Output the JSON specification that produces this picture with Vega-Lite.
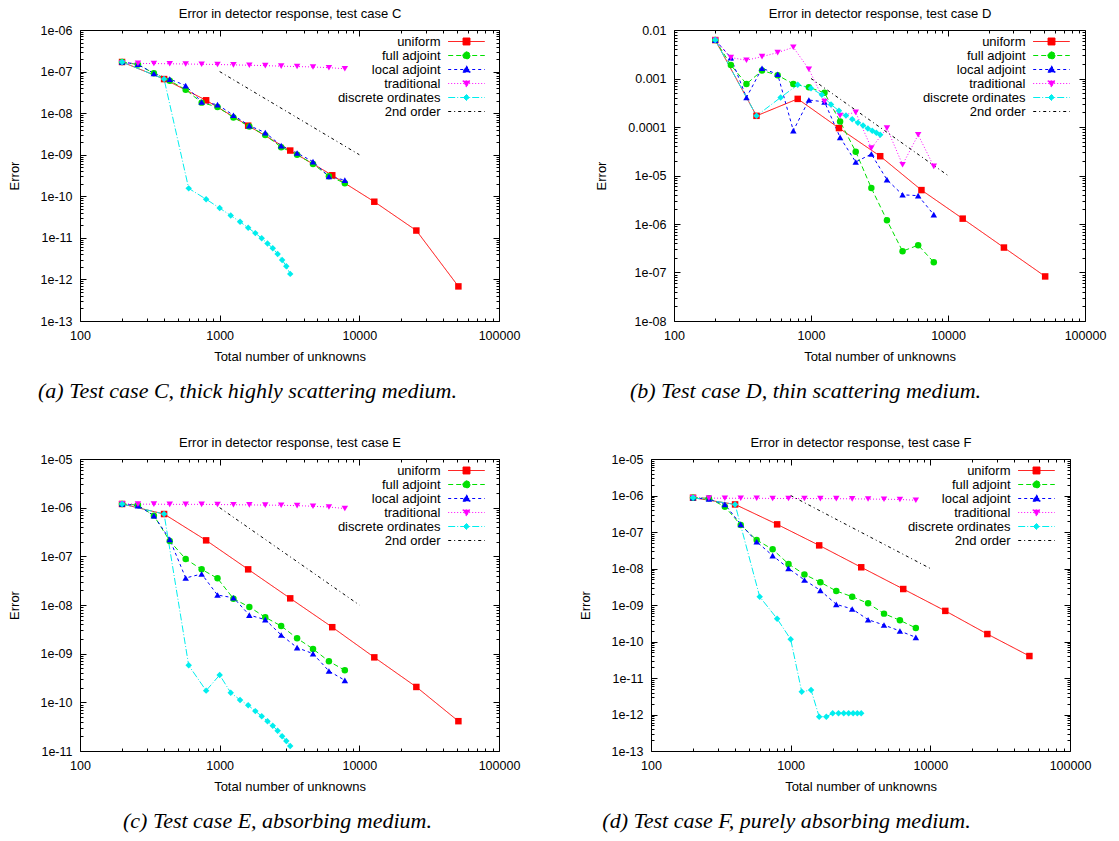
{
  "$schema": "https://vega.github.io/schema/vega-lite/v6.json",
  "padding": {"left": 7, "top": 7, "right": 5, "bottom": 5},
  "background": "white",
  "config": {
    "view": {"stroke": "#000000", "strokeWidth": 1},
    "axis": {"grid": false, "domain": false, "tickColor": "#000000", "tickWidth": 1, "labelFont": "Liberation Sans", "labelFontSize": 12.5, "labelColor": "#000000", "titleFont": "Liberation Sans", "titleFontSize": 13, "titleFontWeight": "normal", "titleColor": "#000000", "labelFlush": false, "labelOverlap": false, "labelPadding": 14},
    "legend": {"labelFont": "Liberation Sans", "labelFontSize": 13, "labelColor": "#000000", "labelAlign": "right", "labelOffset": -32.5, "rowPadding": -1, "padding": 0, "symbolSize": 144, "symbolStrokeWidth": 1, "labelLimit": 300},
    "title": {"font": "Liberation Serif", "fontSize": 22, "fontStyle": "italic", "fontWeight": "normal", "color": "#000000", "orient": "bottom", "anchor": "middle", "frame": "group", "offset": 17},
    "point": {"filled": true, "opacity": 1, "size": 42}
  },
  "datasets": {
    "C": [
      {"series": "uniform", "n": 200, "err": 1.7e-7}, {"series": "uniform", "n": 400, "err": 6.6e-8}, {"series": "uniform", "n": 800, "err": 2.04e-8}, {"series": "uniform", "n": 1600, "err": 5.0e-9}, {"series": "uniform", "n": 3200, "err": 1.26e-9}, {"series": "uniform", "n": 6400, "err": 3.2e-10}, {"series": "uniform", "n": 12800, "err": 7.4e-11}, {"series": "uniform", "n": 25600, "err": 1.5e-11}, {"series": "uniform", "n": 51200, "err": 6.8e-13},
      {"series": "full adjoint", "n": 200, "err": 1.7e-7}, {"series": "full adjoint", "n": 260, "err": 1.47e-7}, {"series": "full adjoint", "n": 338, "err": 9.1e-8}, {"series": "full adjoint", "n": 439, "err": 6.05e-8}, {"series": "full adjoint", "n": 571, "err": 3.67e-8}, {"series": "full adjoint", "n": 743, "err": 1.79e-8}, {"series": "full adjoint", "n": 965, "err": 1.41e-8}, {"series": "full adjoint", "n": 1255, "err": 7.9e-9}, {"series": "full adjoint", "n": 1631, "err": 4.75e-9}, {"series": "full adjoint", "n": 2121, "err": 2.96e-9}, {"series": "full adjoint", "n": 2757, "err": 1.52e-9}, {"series": "full adjoint", "n": 3584, "err": 1.0e-9}, {"series": "full adjoint", "n": 4659, "err": 6.0e-10}, {"series": "full adjoint", "n": 6057, "err": 3.03e-10}, {"series": "full adjoint", "n": 7874, "err": 2.07e-10},
      {"series": "local adjoint", "n": 200, "err": 1.7e-7}, {"series": "local adjoint", "n": 260, "err": 1.5e-7}, {"series": "local adjoint", "n": 338, "err": 9.0e-8}, {"series": "local adjoint", "n": 439, "err": 6.6e-8}, {"series": "local adjoint", "n": 571, "err": 4.6e-8}, {"series": "local adjoint", "n": 743, "err": 1.86e-8}, {"series": "local adjoint", "n": 965, "err": 1.6e-8}, {"series": "local adjoint", "n": 1255, "err": 8.9e-9}, {"series": "local adjoint", "n": 1631, "err": 5.0e-9}, {"series": "local adjoint", "n": 2121, "err": 3.4e-9}, {"series": "local adjoint", "n": 2757, "err": 1.65e-9}, {"series": "local adjoint", "n": 3584, "err": 1.1e-9}, {"series": "local adjoint", "n": 4659, "err": 6.8e-10}, {"series": "local adjoint", "n": 6057, "err": 3.0e-10}, {"series": "local adjoint", "n": 7874, "err": 2.45e-10},
      {"series": "traditional", "n": 200, "err": 1.62e-7}, {"series": "traditional", "n": 260, "err": 1.57e-7}, {"series": "traditional", "n": 338, "err": 1.56e-7}, {"series": "traditional", "n": 439, "err": 1.54e-7}, {"series": "traditional", "n": 571, "err": 1.52e-7}, {"series": "traditional", "n": 743, "err": 1.5e-7}, {"series": "traditional", "n": 965, "err": 1.48e-7}, {"series": "traditional", "n": 1255, "err": 1.45e-7}, {"series": "traditional", "n": 1631, "err": 1.42e-7}, {"series": "traditional", "n": 2121, "err": 1.39e-7}, {"series": "traditional", "n": 2757, "err": 1.35e-7}, {"series": "traditional", "n": 3584, "err": 1.32e-7}, {"series": "traditional", "n": 4659, "err": 1.29e-7}, {"series": "traditional", "n": 6057, "err": 1.24e-7}, {"series": "traditional", "n": 7874, "err": 1.17e-7},
      {"series": "discrete ordinates", "n": 200, "err": 1.7e-7}, {"series": "discrete ordinates", "n": 400, "err": 6.6e-8}, {"series": "discrete ordinates", "n": 600, "err": 1.55e-10}, {"series": "discrete ordinates", "n": 800, "err": 8.5e-11}, {"series": "discrete ordinates", "n": 1000, "err": 5.2e-11}, {"series": "discrete ordinates", "n": 1200, "err": 3.44e-11}, {"series": "discrete ordinates", "n": 1400, "err": 2.43e-11}, {"series": "discrete ordinates", "n": 1600, "err": 1.74e-11}, {"series": "discrete ordinates", "n": 1800, "err": 1.3e-11}, {"series": "discrete ordinates", "n": 2000, "err": 9.8e-12}, {"series": "discrete ordinates", "n": 2200, "err": 7.3e-12}, {"series": "discrete ordinates", "n": 2400, "err": 5.65e-12}, {"series": "discrete ordinates", "n": 2600, "err": 4.1e-12}, {"series": "discrete ordinates", "n": 2800, "err": 2.95e-12}, {"series": "discrete ordinates", "n": 3000, "err": 2.08e-12}, {"series": "discrete ordinates", "n": 3200, "err": 1.36e-12},
      {"series": "2nd order", "n": 1000, "err": 1e-7}, {"series": "2nd order", "n": 10000, "err": 1e-9}
    ],
    "D": [
      {"series": "uniform", "n": 200, "err": 6.2e-3}, {"series": "uniform", "n": 400, "err": 1.7e-4}, {"series": "uniform", "n": 800, "err": 3.8e-4}, {"series": "uniform", "n": 1600, "err": 9.5e-5}, {"series": "uniform", "n": 3200, "err": 2.5e-5}, {"series": "uniform", "n": 6400, "err": 5.0e-6}, {"series": "uniform", "n": 12800, "err": 1.29e-6}, {"series": "uniform", "n": 25600, "err": 3.27e-7}, {"series": "uniform", "n": 51200, "err": 8.3e-8},
      {"series": "full adjoint", "n": 200, "err": 6.2e-3}, {"series": "full adjoint", "n": 260, "err": 1.9e-3}, {"series": "full adjoint", "n": 338, "err": 7.7e-4}, {"series": "full adjoint", "n": 439, "err": 1.46e-3}, {"series": "full adjoint", "n": 571, "err": 1.17e-3}, {"series": "full adjoint", "n": 743, "err": 7.7e-4}, {"series": "full adjoint", "n": 965, "err": 6.6e-4}, {"series": "full adjoint", "n": 1255, "err": 5.06e-4}, {"series": "full adjoint", "n": 1631, "err": 1.3e-4}, {"series": "full adjoint", "n": 2121, "err": 3.1e-5}, {"series": "full adjoint", "n": 2757, "err": 5.5e-6}, {"series": "full adjoint", "n": 3584, "err": 1.19e-6}, {"series": "full adjoint", "n": 4659, "err": 2.75e-7}, {"series": "full adjoint", "n": 6057, "err": 3.66e-7}, {"series": "full adjoint", "n": 7874, "err": 1.63e-7},
      {"series": "local adjoint", "n": 200, "err": 6.2e-3}, {"series": "local adjoint", "n": 260, "err": 2.7e-3}, {"series": "local adjoint", "n": 338, "err": 4.06e-4}, {"series": "local adjoint", "n": 439, "err": 1.63e-3}, {"series": "local adjoint", "n": 571, "err": 1.22e-3}, {"series": "local adjoint", "n": 743, "err": 8.4e-5}, {"series": "local adjoint", "n": 965, "err": 3.6e-4}, {"series": "local adjoint", "n": 1255, "err": 3.3e-4}, {"series": "local adjoint", "n": 1631, "err": 6.1e-5}, {"series": "local adjoint", "n": 2121, "err": 1.9e-5}, {"series": "local adjoint", "n": 2757, "err": 2.77e-5}, {"series": "local adjoint", "n": 3584, "err": 8.2e-6}, {"series": "local adjoint", "n": 4659, "err": 4.0e-6}, {"series": "local adjoint", "n": 6057, "err": 3.84e-6}, {"series": "local adjoint", "n": 7874, "err": 1.56e-6},
      {"series": "traditional", "n": 200, "err": 6.2e-3}, {"series": "traditional", "n": 260, "err": 2.7e-3}, {"series": "traditional", "n": 338, "err": 2.38e-3}, {"series": "traditional", "n": 439, "err": 2.83e-3}, {"series": "traditional", "n": 571, "err": 3.42e-3}, {"series": "traditional", "n": 743, "err": 4.4e-3}, {"series": "traditional", "n": 965, "err": 1.55e-3}, {"series": "traditional", "n": 1255, "err": 3.35e-4}, {"series": "traditional", "n": 1631, "err": 1.72e-4}, {"series": "traditional", "n": 2121, "err": 2.0e-4}, {"series": "traditional", "n": 2757, "err": 3.67e-5}, {"series": "traditional", "n": 3584, "err": 9.5e-5}, {"series": "traditional", "n": 4659, "err": 1.67e-5}, {"series": "traditional", "n": 6057, "err": 6.9e-5}, {"series": "traditional", "n": 7874, "err": 1.54e-5},
      {"series": "discrete ordinates", "n": 200, "err": 6.2e-3}, {"series": "discrete ordinates", "n": 400, "err": 1.7e-4}, {"series": "discrete ordinates", "n": 600, "err": 4.06e-4}, {"series": "discrete ordinates", "n": 800, "err": 7.4e-4}, {"series": "discrete ordinates", "n": 1000, "err": 6.3e-4}, {"series": "discrete ordinates", "n": 1200, "err": 4.6e-4}, {"series": "discrete ordinates", "n": 1400, "err": 2.9e-4}, {"series": "discrete ordinates", "n": 1600, "err": 2.16e-4}, {"series": "discrete ordinates", "n": 1800, "err": 1.72e-4}, {"series": "discrete ordinates", "n": 2000, "err": 1.45e-4}, {"series": "discrete ordinates", "n": 2200, "err": 1.22e-4}, {"series": "discrete ordinates", "n": 2400, "err": 1.07e-4}, {"series": "discrete ordinates", "n": 2600, "err": 9.3e-5}, {"series": "discrete ordinates", "n": 2800, "err": 8.4e-5}, {"series": "discrete ordinates", "n": 3000, "err": 7.6e-5}, {"series": "discrete ordinates", "n": 3200, "err": 6.9e-5},
      {"series": "2nd order", "n": 1000, "err": 1e-3}, {"series": "2nd order", "n": 10000, "err": 1e-5}
    ],
    "E": [
      {"series": "uniform", "n": 200, "err": 1.19e-6}, {"series": "uniform", "n": 400, "err": 7.4e-7}, {"series": "uniform", "n": 800, "err": 2.13e-7}, {"series": "uniform", "n": 1600, "err": 5.4e-8}, {"series": "uniform", "n": 3200, "err": 1.37e-8}, {"series": "uniform", "n": 6400, "err": 3.5e-9}, {"series": "uniform", "n": 12800, "err": 8.4e-10}, {"series": "uniform", "n": 25600, "err": 2.07e-10}, {"series": "uniform", "n": 51200, "err": 4.1e-11},
      {"series": "full adjoint", "n": 200, "err": 1.19e-6}, {"series": "full adjoint", "n": 260, "err": 1.13e-6}, {"series": "full adjoint", "n": 338, "err": 6.86e-7}, {"series": "full adjoint", "n": 439, "err": 2.07e-7}, {"series": "full adjoint", "n": 571, "err": 8.8e-8}, {"series": "full adjoint", "n": 743, "err": 5.4e-8}, {"series": "full adjoint", "n": 965, "err": 3.53e-8}, {"series": "full adjoint", "n": 1255, "err": 1.35e-8}, {"series": "full adjoint", "n": 1631, "err": 9.1e-9}, {"series": "full adjoint", "n": 2121, "err": 5.6e-9}, {"series": "full adjoint", "n": 2757, "err": 3.7e-9}, {"series": "full adjoint", "n": 3584, "err": 2.07e-9}, {"series": "full adjoint", "n": 4659, "err": 1.25e-9}, {"series": "full adjoint", "n": 6057, "err": 6.96e-10}, {"series": "full adjoint", "n": 7874, "err": 4.55e-10},
      {"series": "local adjoint", "n": 200, "err": 1.19e-6}, {"series": "local adjoint", "n": 260, "err": 1.1e-6}, {"series": "local adjoint", "n": 338, "err": 6.86e-7}, {"series": "local adjoint", "n": 439, "err": 2.23e-7}, {"series": "local adjoint", "n": 571, "err": 3.59e-8}, {"series": "local adjoint", "n": 743, "err": 4.34e-8}, {"series": "local adjoint", "n": 965, "err": 1.6e-8}, {"series": "local adjoint", "n": 1255, "err": 1.41e-8}, {"series": "local adjoint", "n": 1631, "err": 6.2e-9}, {"series": "local adjoint", "n": 2121, "err": 5.0e-9}, {"series": "local adjoint", "n": 2757, "err": 2.42e-9}, {"series": "local adjoint", "n": 3584, "err": 1.33e-9}, {"series": "local adjoint", "n": 4659, "err": 1.0e-9}, {"series": "local adjoint", "n": 6057, "err": 4.4e-10}, {"series": "local adjoint", "n": 7874, "err": 2.83e-10},
      {"series": "traditional", "n": 200, "err": 1.2e-6}, {"series": "traditional", "n": 260, "err": 1.18e-6}, {"series": "traditional", "n": 338, "err": 1.18e-6}, {"series": "traditional", "n": 439, "err": 1.17e-6}, {"series": "traditional", "n": 571, "err": 1.17e-6}, {"series": "traditional", "n": 743, "err": 1.17e-6}, {"series": "traditional", "n": 965, "err": 1.16e-6}, {"series": "traditional", "n": 1255, "err": 1.15e-6}, {"series": "traditional", "n": 1631, "err": 1.14e-6}, {"series": "traditional", "n": 2121, "err": 1.13e-6}, {"series": "traditional", "n": 2757, "err": 1.12e-6}, {"series": "traditional", "n": 3584, "err": 1.1e-6}, {"series": "traditional", "n": 4659, "err": 1.07e-6}, {"series": "traditional", "n": 6057, "err": 1.03e-6}, {"series": "traditional", "n": 7874, "err": 9.6e-7},
      {"series": "discrete ordinates", "n": 200, "err": 1.19e-6}, {"series": "discrete ordinates", "n": 400, "err": 7.4e-7}, {"series": "discrete ordinates", "n": 600, "err": 5.75e-10}, {"series": "discrete ordinates", "n": 800, "err": 1.74e-10}, {"series": "discrete ordinates", "n": 1000, "err": 3.65e-10}, {"series": "discrete ordinates", "n": 1200, "err": 1.58e-10}, {"series": "discrete ordinates", "n": 1400, "err": 1.12e-10}, {"series": "discrete ordinates", "n": 1600, "err": 8.7e-11}, {"series": "discrete ordinates", "n": 1800, "err": 6.6e-11}, {"series": "discrete ordinates", "n": 2000, "err": 5.2e-11}, {"series": "discrete ordinates", "n": 2200, "err": 4.1e-11}, {"series": "discrete ordinates", "n": 2400, "err": 3.3e-11}, {"series": "discrete ordinates", "n": 2600, "err": 2.6e-11}, {"series": "discrete ordinates", "n": 2800, "err": 2.0e-11}, {"series": "discrete ordinates", "n": 3000, "err": 1.6e-11}, {"series": "discrete ordinates", "n": 3200, "err": 1.27e-11},
      {"series": "2nd order", "n": 1000, "err": 1e-6}, {"series": "2nd order", "n": 10000, "err": 1e-8}
    ],
    "F": [
      {"series": "uniform", "n": 200, "err": 8.7e-7}, {"series": "uniform", "n": 400, "err": 5.7e-7}, {"series": "uniform", "n": 800, "err": 1.62e-7}, {"series": "uniform", "n": 1600, "err": 4.3e-8}, {"series": "uniform", "n": 3200, "err": 1.08e-8}, {"series": "uniform", "n": 6400, "err": 2.74e-9}, {"series": "uniform", "n": 12800, "err": 6.9e-10}, {"series": "uniform", "n": 25600, "err": 1.6e-10}, {"series": "uniform", "n": 51200, "err": 4.0e-11},
      {"series": "full adjoint", "n": 200, "err": 8.7e-7}, {"series": "full adjoint", "n": 260, "err": 8.4e-7}, {"series": "full adjoint", "n": 338, "err": 4.94e-7}, {"series": "full adjoint", "n": 439, "err": 1.56e-7}, {"series": "full adjoint", "n": 571, "err": 6.0e-8}, {"series": "full adjoint", "n": 743, "err": 3.35e-8}, {"series": "full adjoint", "n": 965, "err": 1.33e-8}, {"series": "full adjoint", "n": 1255, "err": 6.9e-9}, {"series": "full adjoint", "n": 1631, "err": 4.2e-9}, {"series": "full adjoint", "n": 2121, "err": 2.42e-9}, {"series": "full adjoint", "n": 2757, "err": 1.69e-9}, {"series": "full adjoint", "n": 3584, "err": 1.11e-9}, {"series": "full adjoint", "n": 4659, "err": 5.8e-10}, {"series": "full adjoint", "n": 6057, "err": 3.8e-10}, {"series": "full adjoint", "n": 7874, "err": 2.35e-10},
      {"series": "local adjoint", "n": 200, "err": 8.7e-7}, {"series": "local adjoint", "n": 260, "err": 8.0e-7}, {"series": "local adjoint", "n": 338, "err": 5.7e-7}, {"series": "local adjoint", "n": 439, "err": 1.62e-7}, {"series": "local adjoint", "n": 571, "err": 5.4e-8}, {"series": "local adjoint", "n": 743, "err": 2.25e-8}, {"series": "local adjoint", "n": 965, "err": 1.01e-8}, {"series": "local adjoint", "n": 1255, "err": 4.84e-9}, {"series": "local adjoint", "n": 1631, "err": 2.52e-9}, {"series": "local adjoint", "n": 2121, "err": 1.04e-9}, {"series": "local adjoint", "n": 2757, "err": 7.8e-10}, {"series": "local adjoint", "n": 3584, "err": 3.96e-10}, {"series": "local adjoint", "n": 4659, "err": 2.83e-10}, {"series": "local adjoint", "n": 6057, "err": 1.94e-10}, {"series": "local adjoint", "n": 7874, "err": 1.3e-10},
      {"series": "traditional", "n": 200, "err": 8.7e-7}, {"series": "traditional", "n": 260, "err": 8.5e-7}, {"series": "traditional", "n": 338, "err": 8.4e-7}, {"series": "traditional", "n": 439, "err": 8.4e-7}, {"series": "traditional", "n": 571, "err": 8.4e-7}, {"series": "traditional", "n": 743, "err": 8.3e-7}, {"series": "traditional", "n": 965, "err": 8.3e-7}, {"series": "traditional", "n": 1255, "err": 8.3e-7}, {"series": "traditional", "n": 1631, "err": 8.2e-7}, {"series": "traditional", "n": 2121, "err": 8.2e-7}, {"series": "traditional", "n": 2757, "err": 8.1e-7}, {"series": "traditional", "n": 3584, "err": 8.0e-7}, {"series": "traditional", "n": 4659, "err": 7.9e-7}, {"series": "traditional", "n": 6057, "err": 7.8e-7}, {"series": "traditional", "n": 7874, "err": 7.4e-7},
      {"series": "discrete ordinates", "n": 200, "err": 8.7e-7}, {"series": "discrete ordinates", "n": 400, "err": 5.7e-7}, {"series": "discrete ordinates", "n": 600, "err": 1.69e-9}, {"series": "discrete ordinates", "n": 800, "err": 4.2e-10}, {"series": "discrete ordinates", "n": 1000, "err": 1.15e-10}, {"series": "discrete ordinates", "n": 1200, "err": 4.2e-12}, {"series": "discrete ordinates", "n": 1400, "err": 4.7e-12}, {"series": "discrete ordinates", "n": 1600, "err": 8.7e-13}, {"series": "discrete ordinates", "n": 1800, "err": 8.7e-13}, {"series": "discrete ordinates", "n": 2000, "err": 1.08e-12}, {"series": "discrete ordinates", "n": 2200, "err": 1.08e-12}, {"series": "discrete ordinates", "n": 2400, "err": 1.08e-12}, {"series": "discrete ordinates", "n": 2600, "err": 1.08e-12}, {"series": "discrete ordinates", "n": 2800, "err": 1.08e-12}, {"series": "discrete ordinates", "n": 3000, "err": 1.08e-12}, {"series": "discrete ordinates", "n": 3200, "err": 1.08e-12},
      {"series": "2nd order", "n": 1000, "err": 1e-6}, {"series": "2nd order", "n": 10000, "err": 1e-8}
    ]
  },
  "spacing": 34,
  "resolve": {"scale": {"color": "independent", "strokeDash": "independent", "shape": "independent"}, "legend": {"color": "independent"}},
  "vconcat": [
    {
      "spacing": 74,
      "resolve": {"scale": {"color": "independent", "strokeDash": "independent", "shape": "independent"}, "legend": {"color": "independent"}},
      "hconcat": [
        {
          "width": 419, "height": 291,
          "title": {"text": "(a) Test case C, thick highly scattering medium.", "dx": -42},
          "data": {"name": "C"},
          "resolve": {"axis": {"x": "independent", "y": "independent"}},
          "layer": [
            {
              "mark": {"type": "line", "strokeWidth": 1},
              "encoding": {
                "x": {"field": "n", "type": "quantitative", "scale": {"type": "log", "domain": [100, 100000], "nice": false},
                  "axis": {"values": [100,200,300,400,500,600,700,800,900,1000,2000,3000,4000,5000,6000,7000,8000,9000,10000,20000,30000,40000,50000,60000,70000,80000,90000,100000], "labelExpr": "abs(log(datum.value)/LN10 - round(log(datum.value)/LN10)) < 0.001 ? toString(round(datum.value)) : ''", "tickSize": {"condition": {"test": "abs(log(datum.value)/LN10 - round(log(datum.value)/LN10)) < 0.001", "value": -6}, "value": -3}, "title": "Total number of unknowns", "titlePadding": 6}},
                "y": {"field": "err", "type": "quantitative", "scale": {"type": "log", "domain": [1e-13, 1e-6], "nice": false},
                  "axis": {"values": [1e-13,2e-13,3e-13,4e-13,5e-13,6e-13,7e-13,8e-13,9e-13,1e-12,2e-12,3e-12,4e-12,5e-12,6e-12,7e-12,8e-12,9e-12,1e-11,2e-11,3e-11,4e-11,5e-11,6e-11,7e-11,8e-11,9e-11,1e-10,2e-10,3e-10,4e-10,5e-10,6e-10,7e-10,8e-10,9e-10,1e-9,2e-9,3e-9,4e-9,5e-9,6e-9,7e-9,8e-9,9e-9,1e-8,2e-8,3e-8,4e-8,5e-8,6e-8,7e-8,8e-8,9e-8,1e-7,2e-7,3e-7,4e-7,5e-7,6e-7,7e-7,8e-7,9e-7,1e-6], "labelExpr": "abs(log(datum.value)/LN10 - round(log(datum.value)/LN10)) < 0.001 ? ('1e-' + ((-round(log(datum.value)/LN10)) < 10 ? '0' : '') + (-round(log(datum.value)/LN10))) : ''", "tickSize": {"condition": {"test": "abs(log(datum.value)/LN10 - round(log(datum.value)/LN10)) < 0.001", "value": -6}, "value": -3}, "title": "Error", "titlePadding": 19}},
                "color": {"field": "series", "type": "nominal", "scale": {"domain": ["uniform","full adjoint","local adjoint","traditional","discrete ordinates","2nd order"], "range": ["#ff0000","#00e000","#0000ff","#ff00ff","#00eeee","#000000"]},
                  "legend": {"title": null, "orient": "none", "legendX": 380, "legendY": 5,
                    "symbolType": {"expr": "datum.value === 'uniform' ? 'M-3.05,0H3.05M-0.58,-0.58H0.58V0.58H-0.58Z' : datum.value === 'full adjoint' ? 'M-3.05,0H3.05M0.62,0L0.44,0.44L0,0.62L-0.44,0.44L-0.62,0L-0.44,-0.44L0,-0.62L0.44,-0.44Z' : datum.value === 'local adjoint' ? 'M-3.05,0H3.05M-0.62,0.45L0.62,0.45L0,-0.62Z' : datum.value === 'traditional' ? 'M-3.05,0H3.05M-0.62,-0.45L0.62,-0.45L0,0.62Z' : datum.value === 'discrete ordinates' ? 'M-3.05,0H3.05M-0.5,0L0,-0.5L0.5,0L0,0.5Z' : 'M-3.05,0H3.05'"},
                    "symbolFillColor": {"expr": "datum.value === 'uniform' ? '#ff0000' : datum.value === 'full adjoint' ? '#00e000' : datum.value === 'local adjoint' ? '#0000ff' : datum.value === 'traditional' ? '#ff00ff' : datum.value === 'discrete ordinates' ? '#00eeee' : 'transparent'"},
                    "symbolDash": {"expr": "datum.value === 'uniform' ? [1,0] : datum.value === 'full adjoint' ? [5,3] : datum.value === 'local adjoint' ? [3,3] : datum.value === 'traditional' ? [1,2] : datum.value === 'discrete ordinates' ? [7,2,1,2] : [3,3,1,3]"}}},
                "strokeDash": {"field": "series", "type": "nominal", "scale": {"domain": ["uniform","full adjoint","local adjoint","traditional","discrete ordinates","2nd order"], "range": [[1,0],[5,3],[3,3],[1,2],[7,2,1,2],[3,3,1,3]]}, "legend": null}
              }
            },
            {
              "transform": [{"filter": "datum.series !== '2nd order'"}],
              "mark": {"type": "point", "filled": true, "opacity": 1, "size": 42},
              "encoding": {
                "x": {"field": "n", "type": "quantitative", "scale": {"type": "log", "domain": [100, 100000], "nice": false},
                  "axis": {"orient": "top", "values": [100,200,300,400,500,600,700,800,900,1000,2000,3000,4000,5000,6000,7000,8000,9000,10000,20000,30000,40000,50000,60000,70000,80000,90000,100000], "labels": false, "tickSize": {"condition": {"test": "abs(log(datum.value)/LN10 - round(log(datum.value)/LN10)) < 0.001", "value": -6}, "value": -3}, "title": "Error in detector response, test case C", "titlePadding": 9}},
                "y": {"field": "err", "type": "quantitative", "scale": {"type": "log", "domain": [1e-13, 1e-6], "nice": false},
                  "axis": {"orient": "right", "values": [1e-13,2e-13,3e-13,4e-13,5e-13,6e-13,7e-13,8e-13,9e-13,1e-12,2e-12,3e-12,4e-12,5e-12,6e-12,7e-12,8e-12,9e-12,1e-11,2e-11,3e-11,4e-11,5e-11,6e-11,7e-11,8e-11,9e-11,1e-10,2e-10,3e-10,4e-10,5e-10,6e-10,7e-10,8e-10,9e-10,1e-9,2e-9,3e-9,4e-9,5e-9,6e-9,7e-9,8e-9,9e-9,1e-8,2e-8,3e-8,4e-8,5e-8,6e-8,7e-8,8e-8,9e-8,1e-7,2e-7,3e-7,4e-7,5e-7,6e-7,7e-7,8e-7,9e-7,1e-6], "labels": false, "tickSize": {"condition": {"test": "abs(log(datum.value)/LN10 - round(log(datum.value)/LN10)) < 0.001", "value": -6}, "value": -3}, "title": null}},
                "color": {"field": "series", "type": "nominal", "scale": {"domain": ["uniform","full adjoint","local adjoint","traditional","discrete ordinates","2nd order"], "range": ["#ff0000","#00e000","#0000ff","#ff00ff","#00eeee","#000000"]}, "legend": null},
                "shape": {"field": "series", "type": "nominal", "scale": {"domain": ["uniform","full adjoint","local adjoint","traditional","discrete ordinates"], "range": ["square","circle","triangle-up","triangle-down","diamond"]}, "legend": null}
              }
            }
          ]
        },
        {
          "width": 411, "height": 291,
          "title": {"text": "(b) Test case D, thin scattering medium.", "dx": -74},
          "data": {"name": "D"},
          "resolve": {"axis": {"x": "independent", "y": "independent"}},
          "layer": [
            {
              "mark": {"type": "line", "strokeWidth": 1},
              "encoding": {
                "x": {"field": "n", "type": "quantitative", "scale": {"type": "log", "domain": [100, 100000], "nice": false},
                  "axis": {"values": [100,200,300,400,500,600,700,800,900,1000,2000,3000,4000,5000,6000,7000,8000,9000,10000,20000,30000,40000,50000,60000,70000,80000,90000,100000], "labelExpr": "abs(log(datum.value)/LN10 - round(log(datum.value)/LN10)) < 0.001 ? toString(round(datum.value)) : ''", "tickSize": {"condition": {"test": "abs(log(datum.value)/LN10 - round(log(datum.value)/LN10)) < 0.001", "value": -6}, "value": -3}, "title": "Total number of unknowns", "titlePadding": 6}},
                "y": {"field": "err", "type": "quantitative", "scale": {"type": "log", "domain": [1e-8, 1e-2], "nice": false},
                  "axis": {"values": [1e-8,2e-8,3e-8,4e-8,5e-8,6e-8,7e-8,8e-8,9e-8,1e-7,2e-7,3e-7,4e-7,5e-7,6e-7,7e-7,8e-7,9e-7,1e-6,2e-6,3e-6,4e-6,5e-6,6e-6,7e-6,8e-6,9e-6,1e-5,2e-5,3e-5,4e-5,5e-5,6e-5,7e-5,8e-5,9e-5,0.0001,0.0002,0.0003,0.0004,0.0005,0.0006,0.0007,0.0008,0.0009,0.001,0.002,0.003,0.004,0.005,0.006,0.007,0.008,0.009,0.01], "labelExpr": "abs(log(datum.value)/LN10 - round(log(datum.value)/LN10)) < 0.001 ? (datum.value >= 0.0001 ? toString(datum.value) : ('1e-' + ((-round(log(datum.value)/LN10)) < 10 ? '0' : '') + (-round(log(datum.value)/LN10)))) : ''", "tickSize": {"condition": {"test": "abs(log(datum.value)/LN10 - round(log(datum.value)/LN10)) < 0.001", "value": -6}, "value": -3}, "title": "Error", "titlePadding": 19}},
                "color": {"field": "series", "type": "nominal", "scale": {"domain": ["uniform","full adjoint","local adjoint","traditional","discrete ordinates","2nd order"], "range": ["#ff0000","#00e000","#0000ff","#ff00ff","#00eeee","#000000"]},
                  "legend": {"title": null, "orient": "none", "legendX": 371, "legendY": 5,
                    "symbolType": {"expr": "datum.value === 'uniform' ? 'M-3.05,0H3.05M-0.58,-0.58H0.58V0.58H-0.58Z' : datum.value === 'full adjoint' ? 'M-3.05,0H3.05M0.62,0L0.44,0.44L0,0.62L-0.44,0.44L-0.62,0L-0.44,-0.44L0,-0.62L0.44,-0.44Z' : datum.value === 'local adjoint' ? 'M-3.05,0H3.05M-0.62,0.45L0.62,0.45L0,-0.62Z' : datum.value === 'traditional' ? 'M-3.05,0H3.05M-0.62,-0.45L0.62,-0.45L0,0.62Z' : datum.value === 'discrete ordinates' ? 'M-3.05,0H3.05M-0.5,0L0,-0.5L0.5,0L0,0.5Z' : 'M-3.05,0H3.05'"},
                    "symbolFillColor": {"expr": "datum.value === 'uniform' ? '#ff0000' : datum.value === 'full adjoint' ? '#00e000' : datum.value === 'local adjoint' ? '#0000ff' : datum.value === 'traditional' ? '#ff00ff' : datum.value === 'discrete ordinates' ? '#00eeee' : 'transparent'"},
                    "symbolDash": {"expr": "datum.value === 'uniform' ? [1,0] : datum.value === 'full adjoint' ? [5,3] : datum.value === 'local adjoint' ? [3,3] : datum.value === 'traditional' ? [1,2] : datum.value === 'discrete ordinates' ? [7,2,1,2] : [3,3,1,3]"}}},
                "strokeDash": {"field": "series", "type": "nominal", "scale": {"domain": ["uniform","full adjoint","local adjoint","traditional","discrete ordinates","2nd order"], "range": [[1,0],[5,3],[3,3],[1,2],[7,2,1,2],[3,3,1,3]]}, "legend": null}
              }
            },
            {
              "transform": [{"filter": "datum.series !== '2nd order'"}],
              "mark": {"type": "point", "filled": true, "opacity": 1, "size": 42},
              "encoding": {
                "x": {"field": "n", "type": "quantitative", "scale": {"type": "log", "domain": [100, 100000], "nice": false},
                  "axis": {"orient": "top", "values": [100,200,300,400,500,600,700,800,900,1000,2000,3000,4000,5000,6000,7000,8000,9000,10000,20000,30000,40000,50000,60000,70000,80000,90000,100000], "labels": false, "tickSize": {"condition": {"test": "abs(log(datum.value)/LN10 - round(log(datum.value)/LN10)) < 0.001", "value": -6}, "value": -3}, "title": "Error in detector response, test case D", "titlePadding": 9}},
                "y": {"field": "err", "type": "quantitative", "scale": {"type": "log", "domain": [1e-8, 1e-2], "nice": false},
                  "axis": {"orient": "right", "values": [1e-8,2e-8,3e-8,4e-8,5e-8,6e-8,7e-8,8e-8,9e-8,1e-7,2e-7,3e-7,4e-7,5e-7,6e-7,7e-7,8e-7,9e-7,1e-6,2e-6,3e-6,4e-6,5e-6,6e-6,7e-6,8e-6,9e-6,1e-5,2e-5,3e-5,4e-5,5e-5,6e-5,7e-5,8e-5,9e-5,0.0001,0.0002,0.0003,0.0004,0.0005,0.0006,0.0007,0.0008,0.0009,0.001,0.002,0.003,0.004,0.005,0.006,0.007,0.008,0.009,0.01], "labels": false, "tickSize": {"condition": {"test": "abs(log(datum.value)/LN10 - round(log(datum.value)/LN10)) < 0.001", "value": -6}, "value": -3}, "title": null}},
                "color": {"field": "series", "type": "nominal", "scale": {"domain": ["uniform","full adjoint","local adjoint","traditional","discrete ordinates","2nd order"], "range": ["#ff0000","#00e000","#0000ff","#ff00ff","#00eeee","#000000"]}, "legend": null},
                "shape": {"field": "series", "type": "nominal", "scale": {"domain": ["uniform","full adjoint","local adjoint","traditional","discrete ordinates"], "range": ["square","circle","triangle-up","triangle-down","diamond"]}, "legend": null}
              }
            }
          ]
        }
      ]
    },
    {
      "spacing": 57,
      "resolve": {"scale": {"color": "independent", "strokeDash": "independent", "shape": "independent"}, "legend": {"color": "independent"}},
      "hconcat": [
        {
          "width": 419, "height": 292,
          "title": {"text": "(c) Test case E, absorbing medium.", "dx": -12},
          "data": {"name": "E"},
          "resolve": {"axis": {"x": "independent", "y": "independent"}},
          "layer": [
            {
              "mark": {"type": "line", "strokeWidth": 1},
              "encoding": {
                "x": {"field": "n", "type": "quantitative", "scale": {"type": "log", "domain": [100, 100000], "nice": false},
                  "axis": {"values": [100,200,300,400,500,600,700,800,900,1000,2000,3000,4000,5000,6000,7000,8000,9000,10000,20000,30000,40000,50000,60000,70000,80000,90000,100000], "labelExpr": "abs(log(datum.value)/LN10 - round(log(datum.value)/LN10)) < 0.001 ? toString(round(datum.value)) : ''", "tickSize": {"condition": {"test": "abs(log(datum.value)/LN10 - round(log(datum.value)/LN10)) < 0.001", "value": -6}, "value": -3}, "title": "Total number of unknowns", "titlePadding": 6}},
                "y": {"field": "err", "type": "quantitative", "scale": {"type": "log", "domain": [1e-11, 1e-5], "nice": false},
                  "axis": {"values": [1e-11,2e-11,3e-11,4e-11,5e-11,6e-11,7e-11,8e-11,9e-11,1e-10,2e-10,3e-10,4e-10,5e-10,6e-10,7e-10,8e-10,9e-10,1e-9,2e-9,3e-9,4e-9,5e-9,6e-9,7e-9,8e-9,9e-9,1e-8,2e-8,3e-8,4e-8,5e-8,6e-8,7e-8,8e-8,9e-8,1e-7,2e-7,3e-7,4e-7,5e-7,6e-7,7e-7,8e-7,9e-7,1e-6,2e-6,3e-6,4e-6,5e-6,6e-6,7e-6,8e-6,9e-6,1e-5], "labelExpr": "abs(log(datum.value)/LN10 - round(log(datum.value)/LN10)) < 0.001 ? ('1e-' + ((-round(log(datum.value)/LN10)) < 10 ? '0' : '') + (-round(log(datum.value)/LN10))) : ''", "tickSize": {"condition": {"test": "abs(log(datum.value)/LN10 - round(log(datum.value)/LN10)) < 0.001", "value": -6}, "value": -3}, "title": "Error", "titlePadding": 19}},
                "color": {"field": "series", "type": "nominal", "scale": {"domain": ["uniform","full adjoint","local adjoint","traditional","discrete ordinates","2nd order"], "range": ["#ff0000","#00e000","#0000ff","#ff00ff","#00eeee","#000000"]},
                  "legend": {"title": null, "orient": "none", "legendX": 380, "legendY": 5,
                    "symbolType": {"expr": "datum.value === 'uniform' ? 'M-3.05,0H3.05M-0.58,-0.58H0.58V0.58H-0.58Z' : datum.value === 'full adjoint' ? 'M-3.05,0H3.05M0.62,0L0.44,0.44L0,0.62L-0.44,0.44L-0.62,0L-0.44,-0.44L0,-0.62L0.44,-0.44Z' : datum.value === 'local adjoint' ? 'M-3.05,0H3.05M-0.62,0.45L0.62,0.45L0,-0.62Z' : datum.value === 'traditional' ? 'M-3.05,0H3.05M-0.62,-0.45L0.62,-0.45L0,0.62Z' : datum.value === 'discrete ordinates' ? 'M-3.05,0H3.05M-0.5,0L0,-0.5L0.5,0L0,0.5Z' : 'M-3.05,0H3.05'"},
                    "symbolFillColor": {"expr": "datum.value === 'uniform' ? '#ff0000' : datum.value === 'full adjoint' ? '#00e000' : datum.value === 'local adjoint' ? '#0000ff' : datum.value === 'traditional' ? '#ff00ff' : datum.value === 'discrete ordinates' ? '#00eeee' : 'transparent'"},
                    "symbolDash": {"expr": "datum.value === 'uniform' ? [1,0] : datum.value === 'full adjoint' ? [5,3] : datum.value === 'local adjoint' ? [3,3] : datum.value === 'traditional' ? [1,2] : datum.value === 'discrete ordinates' ? [7,2,1,2] : [3,3,1,3]"}}},
                "strokeDash": {"field": "series", "type": "nominal", "scale": {"domain": ["uniform","full adjoint","local adjoint","traditional","discrete ordinates","2nd order"], "range": [[1,0],[5,3],[3,3],[1,2],[7,2,1,2],[3,3,1,3]]}, "legend": null}
              }
            },
            {
              "transform": [{"filter": "datum.series !== '2nd order'"}],
              "mark": {"type": "point", "filled": true, "opacity": 1, "size": 42},
              "encoding": {
                "x": {"field": "n", "type": "quantitative", "scale": {"type": "log", "domain": [100, 100000], "nice": false},
                  "axis": {"orient": "top", "values": [100,200,300,400,500,600,700,800,900,1000,2000,3000,4000,5000,6000,7000,8000,9000,10000,20000,30000,40000,50000,60000,70000,80000,90000,100000], "labels": false, "tickSize": {"condition": {"test": "abs(log(datum.value)/LN10 - round(log(datum.value)/LN10)) < 0.001", "value": -6}, "value": -3}, "title": "Error in detector response, test case E", "titlePadding": 9}},
                "y": {"field": "err", "type": "quantitative", "scale": {"type": "log", "domain": [1e-11, 1e-5], "nice": false},
                  "axis": {"orient": "right", "values": [1e-11,2e-11,3e-11,4e-11,5e-11,6e-11,7e-11,8e-11,9e-11,1e-10,2e-10,3e-10,4e-10,5e-10,6e-10,7e-10,8e-10,9e-10,1e-9,2e-9,3e-9,4e-9,5e-9,6e-9,7e-9,8e-9,9e-9,1e-8,2e-8,3e-8,4e-8,5e-8,6e-8,7e-8,8e-8,9e-8,1e-7,2e-7,3e-7,4e-7,5e-7,6e-7,7e-7,8e-7,9e-7,1e-6,2e-6,3e-6,4e-6,5e-6,6e-6,7e-6,8e-6,9e-6,1e-5], "labels": false, "tickSize": {"condition": {"test": "abs(log(datum.value)/LN10 - round(log(datum.value)/LN10)) < 0.001", "value": -6}, "value": -3}, "title": null}},
                "color": {"field": "series", "type": "nominal", "scale": {"domain": ["uniform","full adjoint","local adjoint","traditional","discrete ordinates","2nd order"], "range": ["#ff0000","#00e000","#0000ff","#ff00ff","#00eeee","#000000"]}, "legend": null},
                "shape": {"field": "series", "type": "nominal", "scale": {"domain": ["uniform","full adjoint","local adjoint","traditional","discrete ordinates"], "range": ["square","circle","triangle-up","triangle-down","diamond"]}, "legend": null}
              }
            }
          ]
        },
        {
          "width": 419, "height": 292,
          "title": {"text": "(d) Test case F, purely absorbing medium.", "dx": -74},
          "data": {"name": "F"},
          "resolve": {"axis": {"x": "independent", "y": "independent"}},
          "layer": [
            {
              "mark": {"type": "line", "strokeWidth": 1},
              "encoding": {
                "x": {"field": "n", "type": "quantitative", "scale": {"type": "log", "domain": [100, 100000], "nice": false},
                  "axis": {"values": [100,200,300,400,500,600,700,800,900,1000,2000,3000,4000,5000,6000,7000,8000,9000,10000,20000,30000,40000,50000,60000,70000,80000,90000,100000], "labelExpr": "abs(log(datum.value)/LN10 - round(log(datum.value)/LN10)) < 0.001 ? toString(round(datum.value)) : ''", "tickSize": {"condition": {"test": "abs(log(datum.value)/LN10 - round(log(datum.value)/LN10)) < 0.001", "value": -6}, "value": -3}, "title": "Total number of unknowns", "titlePadding": 6}},
                "y": {"field": "err", "type": "quantitative", "scale": {"type": "log", "domain": [1e-13, 1e-5], "nice": false},
                  "axis": {"values": [1e-13,2e-13,3e-13,4e-13,5e-13,6e-13,7e-13,8e-13,9e-13,1e-12,2e-12,3e-12,4e-12,5e-12,6e-12,7e-12,8e-12,9e-12,1e-11,2e-11,3e-11,4e-11,5e-11,6e-11,7e-11,8e-11,9e-11,1e-10,2e-10,3e-10,4e-10,5e-10,6e-10,7e-10,8e-10,9e-10,1e-9,2e-9,3e-9,4e-9,5e-9,6e-9,7e-9,8e-9,9e-9,1e-8,2e-8,3e-8,4e-8,5e-8,6e-8,7e-8,8e-8,9e-8,1e-7,2e-7,3e-7,4e-7,5e-7,6e-7,7e-7,8e-7,9e-7,1e-6,2e-6,3e-6,4e-6,5e-6,6e-6,7e-6,8e-6,9e-6,1e-5], "labelExpr": "abs(log(datum.value)/LN10 - round(log(datum.value)/LN10)) < 0.001 ? ('1e-' + ((-round(log(datum.value)/LN10)) < 10 ? '0' : '') + (-round(log(datum.value)/LN10))) : ''", "tickSize": {"condition": {"test": "abs(log(datum.value)/LN10 - round(log(datum.value)/LN10)) < 0.001", "value": -6}, "value": -3}, "title": "Error", "titlePadding": 19}},
                "color": {"field": "series", "type": "nominal", "scale": {"domain": ["uniform","full adjoint","local adjoint","traditional","discrete ordinates","2nd order"], "range": ["#ff0000","#00e000","#0000ff","#ff00ff","#00eeee","#000000"]},
                  "legend": {"title": null, "orient": "none", "legendX": 379, "legendY": 5,
                    "symbolType": {"expr": "datum.value === 'uniform' ? 'M-3.05,0H3.05M-0.58,-0.58H0.58V0.58H-0.58Z' : datum.value === 'full adjoint' ? 'M-3.05,0H3.05M0.62,0L0.44,0.44L0,0.62L-0.44,0.44L-0.62,0L-0.44,-0.44L0,-0.62L0.44,-0.44Z' : datum.value === 'local adjoint' ? 'M-3.05,0H3.05M-0.62,0.45L0.62,0.45L0,-0.62Z' : datum.value === 'traditional' ? 'M-3.05,0H3.05M-0.62,-0.45L0.62,-0.45L0,0.62Z' : datum.value === 'discrete ordinates' ? 'M-3.05,0H3.05M-0.5,0L0,-0.5L0.5,0L0,0.5Z' : 'M-3.05,0H3.05'"},
                    "symbolFillColor": {"expr": "datum.value === 'uniform' ? '#ff0000' : datum.value === 'full adjoint' ? '#00e000' : datum.value === 'local adjoint' ? '#0000ff' : datum.value === 'traditional' ? '#ff00ff' : datum.value === 'discrete ordinates' ? '#00eeee' : 'transparent'"},
                    "symbolDash": {"expr": "datum.value === 'uniform' ? [1,0] : datum.value === 'full adjoint' ? [5,3] : datum.value === 'local adjoint' ? [3,3] : datum.value === 'traditional' ? [1,2] : datum.value === 'discrete ordinates' ? [7,2,1,2] : [3,3,1,3]"}}},
                "strokeDash": {"field": "series", "type": "nominal", "scale": {"domain": ["uniform","full adjoint","local adjoint","traditional","discrete ordinates","2nd order"], "range": [[1,0],[5,3],[3,3],[1,2],[7,2,1,2],[3,3,1,3]]}, "legend": null}
              }
            },
            {
              "transform": [{"filter": "datum.series !== '2nd order'"}],
              "mark": {"type": "point", "filled": true, "opacity": 1, "size": 42},
              "encoding": {
                "x": {"field": "n", "type": "quantitative", "scale": {"type": "log", "domain": [100, 100000], "nice": false},
                  "axis": {"orient": "top", "values": [100,200,300,400,500,600,700,800,900,1000,2000,3000,4000,5000,6000,7000,8000,9000,10000,20000,30000,40000,50000,60000,70000,80000,90000,100000], "labels": false, "tickSize": {"condition": {"test": "abs(log(datum.value)/LN10 - round(log(datum.value)/LN10)) < 0.001", "value": -6}, "value": -3}, "title": "Error in detector response, test case F", "titlePadding": 9}},
                "y": {"field": "err", "type": "quantitative", "scale": {"type": "log", "domain": [1e-13, 1e-5], "nice": false},
                  "axis": {"orient": "right", "values": [1e-13,2e-13,3e-13,4e-13,5e-13,6e-13,7e-13,8e-13,9e-13,1e-12,2e-12,3e-12,4e-12,5e-12,6e-12,7e-12,8e-12,9e-12,1e-11,2e-11,3e-11,4e-11,5e-11,6e-11,7e-11,8e-11,9e-11,1e-10,2e-10,3e-10,4e-10,5e-10,6e-10,7e-10,8e-10,9e-10,1e-9,2e-9,3e-9,4e-9,5e-9,6e-9,7e-9,8e-9,9e-9,1e-8,2e-8,3e-8,4e-8,5e-8,6e-8,7e-8,8e-8,9e-8,1e-7,2e-7,3e-7,4e-7,5e-7,6e-7,7e-7,8e-7,9e-7,1e-6,2e-6,3e-6,4e-6,5e-6,6e-6,7e-6,8e-6,9e-6,1e-5], "labels": false, "tickSize": {"condition": {"test": "abs(log(datum.value)/LN10 - round(log(datum.value)/LN10)) < 0.001", "value": -6}, "value": -3}, "title": null}},
                "color": {"field": "series", "type": "nominal", "scale": {"domain": ["uniform","full adjoint","local adjoint","traditional","discrete ordinates","2nd order"], "range": ["#ff0000","#00e000","#0000ff","#ff00ff","#00eeee","#000000"]}, "legend": null},
                "shape": {"field": "series", "type": "nominal", "scale": {"domain": ["uniform","full adjoint","local adjoint","traditional","discrete ordinates"], "range": ["square","circle","triangle-up","triangle-down","diamond"]}, "legend": null}
              }
            }
          ]
        }
      ]
    }
  ]
}
